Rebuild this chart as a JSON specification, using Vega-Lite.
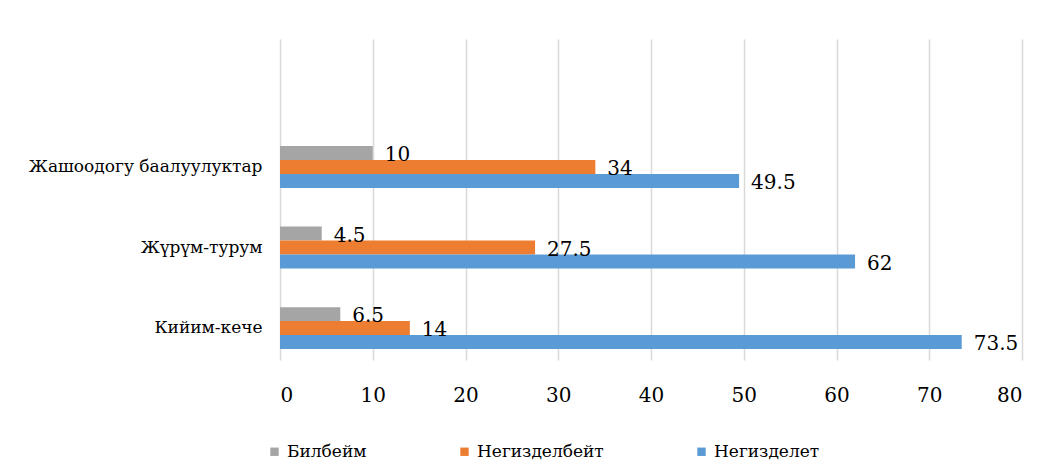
{
  "$schema": "https://vega.github.io/schema/vega-lite/v6.json",
  "width": 742,
  "height": 321,
  "autosize": "none",
  "padding": {"left": 280, "top": 39, "right": 30, "bottom": 112},
  "background": "white",
  "data": {
    "values": [
      {"cat": "Жашоодогу баалуулуктар", "series": "Билбейм", "value": 10},
      {"cat": "Жашоодогу баалуулуктар", "series": "Негизделбейт", "value": 34},
      {"cat": "Жашоодогу баалуулуктар", "series": "Негизделет", "value": 49.5},
      {"cat": "Жүрүм-турум", "series": "Билбейм", "value": 4.5},
      {"cat": "Жүрүм-турум", "series": "Негизделбейт", "value": 27.5},
      {"cat": "Жүрүм-турум", "series": "Негизделет", "value": 62},
      {"cat": "Кийим-кече", "series": "Билбейм", "value": 6.5},
      {"cat": "Кийим-кече", "series": "Негизделбейт", "value": 14},
      {"cat": "Кийим-кече", "series": "Негизделет", "value": 73.5}
    ]
  },
  "encoding": {
    "y": {
      "field": "cat",
      "type": "nominal",
      "sort": ["Жашоодогу баалуулуктар", "Жүрүм-турум", "Кийим-кече"],
      "scale": {"paddingInner": 0.48, "paddingOuter": 0.733, "align": 0.907},
      "axis": {
        "title": null,
        "ticks": false,
        "domain": false,
        "labelFont": "DejaVu Serif",
        "labelFontSize": 17,
        "labelColor": "#000000",
        "labelPadding": 18,
        "labelLimit": 300
      }
    },
    "yOffset": {
      "field": "series",
      "type": "nominal",
      "sort": ["Билбейм", "Негизделбейт", "Негизделет"],
      "scale": {"paddingInner": 0, "paddingOuter": 0}
    },
    "x": {
      "field": "value",
      "type": "quantitative",
      "scale": {"domain": [0, 80], "nice": false},
      "axis": {
        "title": null,
        "values": [0, 10, 20, 30, 40, 50, 60, 70, 80],
        "ticks": false,
        "domain": false,
        "grid": true,
        "gridColor": "#d9d9d9",
        "gridWidth": 1.5,
        "labelFont": "DejaVu Serif",
        "labelFontSize": 20,
        "labelColor": "#000000",
        "labelPadding": 25
      }
    }
  },
  "layer": [
    {
      "mark": {"type": "bar", "strokeWidth": 0},
      "encoding": {
        "color": {
          "field": "series",
          "type": "nominal",
          "sort": ["Билбейм", "Негизделбейт", "Негизделет"],
          "scale": {
            "domain": ["Билбейм", "Негизделбейт", "Негизделет"],
            "range": ["#A5A5A5", "#ED7D31", "#5B9BD5"]
          },
          "legend": {
            "title": null,
            "orient": "none",
            "direction": "horizontal",
            "legendX": -14,
            "legendY": 404,
            "symbolType": "square",
            "symbolSize": 70,
            "symbolStrokeWidth": 0,
            "labelFont": "DejaVu Serif",
            "labelFontSize": 17,
            "labelColor": "#000000",
            "labelOffset": 4,
            "columnPadding": 89
          }
        }
      }
    },
    {
      "mark": {
        "type": "text",
        "align": "left",
        "baseline": "middle",
        "dx": 12,
        "dy": 2,
        "font": "DejaVu Serif",
        "fontSize": 20,
        "color": "#000000"
      },
      "encoding": {
        "text": {"field": "value", "type": "quantitative"}
      }
    }
  ],
  "config": {
    "view": {"stroke": null}
  }
}
